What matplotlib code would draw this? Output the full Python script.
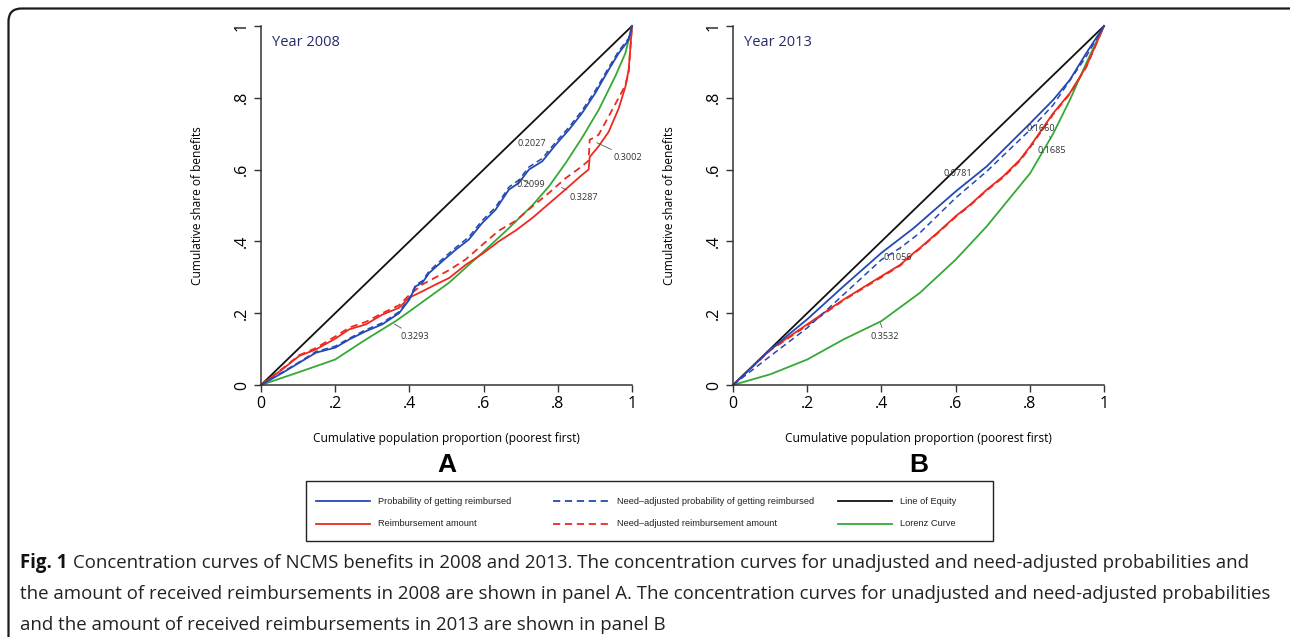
import matplotlib
matplotlib.use("Agg")
import matplotlib.pyplot as plt
from matplotlib.lines import Line2D
from matplotlib.patches import FancyBboxPatch, Rectangle

plt.rcParams["font.family"] = ["Open Sans", "DejaVu Sans"]

W, H = 1290, 637

# ---- Panel A (2008): concentration curves ----
prob_a_x = [0, .058, .103, .148, .2, .238, .283, .327, .372, .4, .417, .435, .453, .489,
            .525, .56, .596, .632, .668, .695, .722, .758, .794, .83, .865, .901, .937,
            .964, .991, 1]
prob_a_y = [0, .034, .062, .09, .104, .127, .15, .169, .2, .238, .275, .285, .312, .345,
            .377, .405, .451, .488, .544, .563, .6, .623, .669, .711, .757, .813, .878,
            .924, .961, 1]
prob_adj_a_x = [0, .058, .103, .148, .2, .238, .283, .327, .372, .4, .417, .435, .453, .489,
                .525, .56, .596, .632, .668, .695, .722, .758, .794, .83, .865, .901, .937,
                .964, .991, 1]
prob_adj_a_y = [0, .036, .064, .093, .108, .13, .154, .173, .204, .242, .279, .29, .317, .351,
                .383, .412, .458, .495, .551, .571, .607, .631, .676, .718, .764, .82, .884,
                .93, .966, 1]
amt_a_x = [0, .058, .103, .148, .2, .238, .283, .327, .372, .399, .435, .471, .507, .552,
           .596, .641, .686, .731, .776, .821, .865, .883, .886, .91, .937, .964, .982, .991, 1]
amt_a_y = [0, .044, .081, .099, .129, .155, .169, .196, .215, .243, .261, .28, .298, .335,
           .365, .4, .43, .465, .505, .545, .585, .6, .635, .665, .705, .77, .83, .878, 1]
amt_adj_a_x = [0, .058, .103, .148, .2, .238, .283, .327, .372, .399, .435, .471, .507, .552,
               .596, .641, .686, .731, .776, .821, .865, .883, .886, .91, .937, .964, .982,
               .991, 1]
amt_adj_a_y = [0, .046, .083, .103, .135, .16, .176, .2, .222, .25, .28, .3, .32, .35,
               .39, .43, .457, .497, .535, .576, .609, .625, .683, .697, .748, .8, .835,
               .87, 1]
lorenz_a_x = [0, .1, .2, .283, .363, .4, .507, .596, .659, .731, .776, .821, .865, .91,
              .955, .982, 1]
lorenz_a_y = [0, .035, .071, .127, .178, .205, .285, .368, .428, .5, .553, .618, .688, .766,
              .86, .924, 1]

# ---- Panel B (2013) ----
prob_b_x = [0, .101, .2, .298, .4, .487, .6, .684, .801, .863, .908, .952, 1]
prob_b_y = [0, .099, .183, .275, .368, .437, .539, .609, .729, .794, .85, .924, 1]
prob_adj_b_x = [0, .101, .2, .298, .4, .451, .504, .6, .684, .801, .863, .952, 1]
prob_adj_b_y = [0, .081, .159, .252, .349, .382, .424, .521, .595, .711, .78, .915, 1]
amt_b_x = [0, .101, .2, .298, .4, .451, .487, .504, .551, .6, .639, .684, .728, .773,
           .801, .863, .908, .952, 1]
amt_b_y = [0, .099, .169, .238, .303, .335, .368, .382, .424, .47, .502, .544, .581, .627,
           .665, .757, .813, .887, 1]
amt_adj_b_x = [0, .101, .2, .298, .4, .451, .487, .504, .551, .6, .639, .684, .728, .773,
               .801, .863, .908, .952, 1]
amt_adj_b_y = [0, .097, .166, .236, .3, .333, .366, .38, .422, .468, .5, .542, .578, .624,
               .662, .754, .811, .885, 1]
lorenz_b_x = [0, .101, .2, .298, .4, .504, .6, .684, .801, .863, .908, .952, 1]
lorenz_b_y = [0, .03, .071, .127, .178, .257, .349, .442, .59, .7, .794, .896, 1]

# concentration indices printed next to the curves
ci_a = ["0.2027", "0.2099", "0.3002", "0.3287", "0.3293"]
ci_b = ["0.0781", "0.1056", "0.1660", "0.1685", "0.3532"]

ticks = [0, .2, .4, .6, .8, 1]
tick_labels = ["0", ".2", ".4", ".6", ".8", "1"]

series_names = ["Probability of getting reimbursed",
                "Need\u2013adjusted probability of getting reimbursed",
                "Line of Equity",
                "Reimbursement amount",
                "Need\u2013adjusted reimbursement amount",
                "Lorenz Curve"]

BLUE, RED, GREEN, BLACK = "#2349b4", "#ec2a1f", "#35a936", "#111111"
DASH = (0, (4, 2.6))
styles = {
    "prob": dict(color=BLUE, lw=1.3, ls="-"),
    "prob_adj": dict(color=BLUE, lw=1.1, ls=DASH),
    "equity": dict(color=BLACK, lw=1.3, ls="-"),
    "amt": dict(color=RED, lw=1.3, ls="-"),
    "amt_adj": dict(color=RED, lw=1.3, ls=DASH),
    "lorenz": dict(color=GREEN, lw=1.3, ls="-"),
}

panels = [
    dict(year="Year 2008", letter="A", left=261,
         curves=[("equity", [0, 1], [0, 1]),
                 ("lorenz", lorenz_a_x, lorenz_a_y),
                 ("amt", amt_a_x, amt_a_y),
                 ("amt_adj", amt_adj_a_x, amt_adj_a_y),
                 ("prob", prob_a_x, prob_a_y),
                 ("prob_adj", prob_adj_a_x, prob_adj_a_y)],
         notes=ci_a,
         note_xy=[(.73, .672), (.727, .558), (.99, .634), (.87, .521), (.415, .136)],
         note_pt=[(.776, .646), (.70, .575), (.905, .675), (.81, .55), (.359, .17)]),
    dict(year="Year 2013", letter="B", left=733,
         curves=[("equity", [0, 1], [0, 1]),
                 ("lorenz", lorenz_b_x, lorenz_b_y),
                 ("amt", amt_b_x, amt_b_y),
                 ("amt_adj", amt_adj_b_x, amt_adj_b_y),
                 ("prob", prob_b_x, prob_b_y),
                 ("prob_adj", prob_adj_b_x, prob_adj_b_y)],
         notes=ci_b,
         note_xy=[(.605, .588), (.445, .354), (.83, .715), (.86, .653), (.41, .136)],
         note_pt=[(.63, .562), (.452, .385), (.857, .688), (.805, .672), (.397, .173)]),
]

fig = plt.figure(figsize=(W / 100, H / 100), dpi=100)

# page frame with rounded corners (cropped at right and bottom)
bg = fig.add_axes([0, 0, 1, 1], zorder=-5)
bg.set_xlim(0, W)
bg.set_ylim(H, 0)
bg.axis("off")
bg.add_patch(FancyBboxPatch((8.5, 8.5), W + 10, H + 40,
                            boxstyle="round,pad=0,rounding_size=13",
                            fc="white", ec="#1a1a1a", lw=1.6))

for p in panels:
    ax = fig.add_axes([p["left"] / W, 1 - 385 / H, 371 / W, 359 / H])
    for key, xs, ys in p["curves"]:
        ax.plot(xs, ys, clip_on=False, solid_joinstyle="round", **styles[key])
    for txt, xy, pt in zip(p["notes"], p["note_xy"], p["note_pt"]):
        ax.annotate(txt, xy=pt, xytext=xy, ha="center", va="center",
                    fontsize=6.6, color="#333333",
                    arrowprops=dict(arrowstyle="-", color="#555555", lw=0.6,
                                    shrinkA=1, shrinkB=0))
    ax.set_xlim(0, 1)
    ax.set_ylim(0, 1)
    for s in ("top", "right"):
        ax.spines[s].set_visible(False)
    for s in ("left", "bottom"):
        ax.spines[s].set_color("#333333")
        ax.spines[s].set_linewidth(1.1)
    ax.set_xticks(ticks)
    ax.set_xticklabels(tick_labels, fontsize=11.5)
    ax.set_yticks(ticks)
    ax.set_yticklabels(tick_labels, fontsize=11.5, rotation=90, va="center")
    ax.tick_params(length=5, width=1.0, color="#333333", pad=3)
    ax.set_xlabel("Cumulative population proportion (poorest first)", fontsize=8.6)
    ax.xaxis.set_label_coords(0.5, -47 / 359)
    ax.set_ylabel("Cumulative share of benefits", fontsize=8.6)
    ax.yaxis.set_label_coords(-57 / 371, 0.5)
    ax.text(0.03, 0.955, p["year"], transform=ax.transAxes, fontsize=10.5,
            color="#252d6a", ha="left", va="center")
    ax.text(0.5, -80 / 359, p["letter"], transform=ax.transAxes, fontsize=19,
            fontweight="bold", family=["Liberation Sans", "DejaVu Sans"],
            ha="center", va="center")

# legend box drawn by hand to match the original column spacing
bg.add_patch(Rectangle((306, 481), 687, 60, fc="white", ec="#222222", lw=1.0))
leg_keys = ["prob", "prob_adj", "equity", "amt", "amt_adj", "lorenz"]
col_x = [(316, 370, 378), (553, 608, 617), (838, 892, 900)]
row_y = [501, 524]
for i, (key, name) in enumerate(zip(leg_keys, series_names)):
    x0, x1, tx = col_x[i % 3]
    y = row_y[i // 3]
    st = dict(styles[key])
    st["lw"] = 1.3
    bg.add_line(Line2D([x0, x1], [y, y], **st))
    bg.text(tx, y, name, fontsize=6.7, ha="left", va="center", color="#222222",
            family=["Liberation Sans", "DejaVu Sans"])

# caption
cap_size = 13.4
t1 = fig.text(20 / W, 1 - 563 / H, "Fig. 1", fontsize=cap_size, fontweight="bold",
              color="#111111", ha="left", va="center")
bg.annotate("Concentration curves of NCMS benefits in 2008 and 2013. The concentration "
            "curves for unadjusted and need-adjusted probabilities and",
            xy=(1, 0.5), xycoords=t1, xytext=(4, 0), textcoords="offset points",
            ha="left", va="center", fontsize=cap_size, color="#222222")
fig.text(20 / W, 1 - 594 / H,
         "the amount of received reimbursements in 2008 are shown in panel A. The "
         "concentration curves for unadjusted and need-adjusted probabilities",
         fontsize=cap_size, color="#222222", ha="left", va="center")
fig.text(20 / W, 1 - 625 / H,
         "and the amount of received reimbursements in 2013 are shown in panel B",
         fontsize=cap_size, color="#222222", ha="left", va="center")

fig.savefig("out.png", dpi=100)
